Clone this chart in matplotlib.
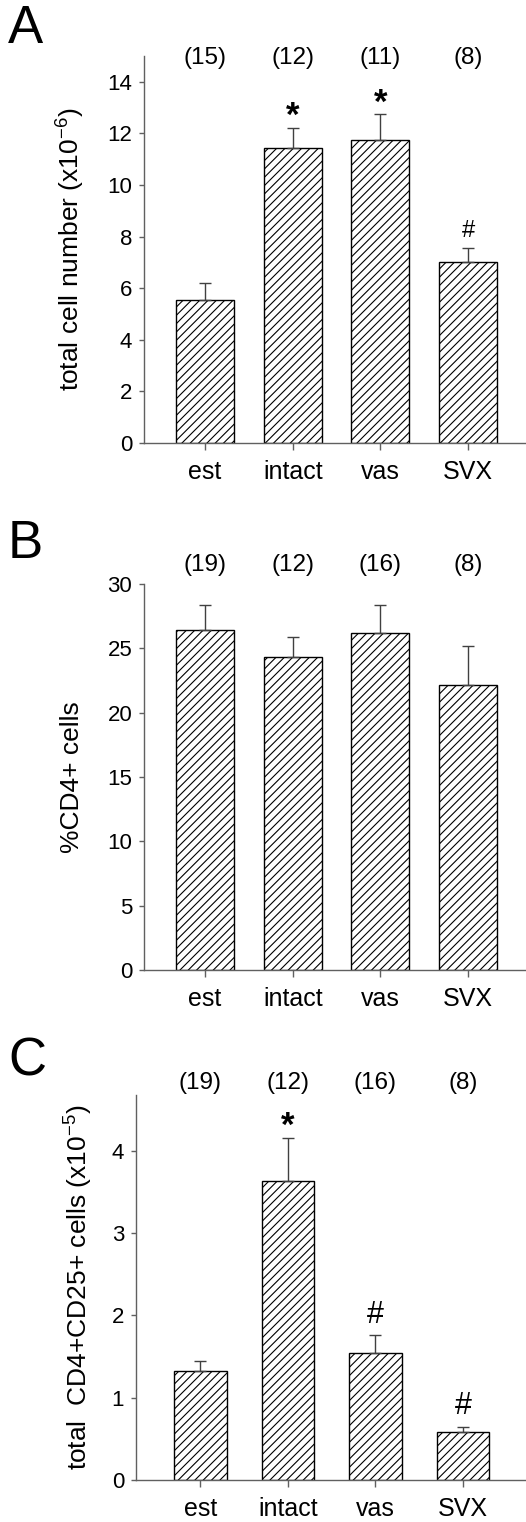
import matplotlib
matplotlib.use("Agg")
import matplotlib.pyplot as plt
import numpy as np

plt.rcParams['font.family'] = ['Liberation Sans', 'DejaVu Sans']
plt.rcParams['mathtext.default'] = 'regular'
plt.rcParams['hatch.linewidth'] = 0.8

groups = ["est", "intact", "vas", "SVX"]

# Panel A: total cell number (x10^-6)
a_mean = [5.54, 11.42, 11.73, 7.00]
a_err = [0.65, 0.80, 1.01, 0.56]
a_n = ["(15)", "(12)", "(11)", "(8)"]
a_sig = ["", "*", "*", "#"]

# Panel B: %CD4+ cells
b_mean = [26.4, 24.3, 26.2, 22.17]
b_err = [1.96, 1.55, 2.16, 3.03]
b_n = ["(19)", "(12)", "(16)", "(8)"]
b_sig = ["", "", "", ""]

# Panel C: total CD4+CD25+ cells (x10^-5)
c_mean = [1.33, 3.64, 1.54, 0.58]
c_err = [0.12, 0.52, 0.22, 0.07]
c_n = ["(19)", "(12)", "(16)", "(8)"]
c_sig = ["", "*", "#", "#"]

W, H = 526, 1522
fig = plt.figure(figsize=(W / 100, H / 100), dpi=100)

spine_col = '#606060'
err_col = '#404040'


def make_panel(left, top, bottom, right, xlim, ylim, yticks, width,
               means, errs, ns, sigs, n_y, ylabel, label_x, letter, letter_y,
               sig_sizes):
    ax = fig.add_axes([left / W, (H - bottom) / H, (right - left) / W, (bottom - top) / H])
    x = np.arange(len(groups))
    ax.bar(x, means, width=width, color='white', edgecolor='black',
           linewidth=1.0, hatch='////', zorder=2)
    ax.errorbar(x, means, yerr=[np.zeros(len(errs)), errs], fmt='none',
                ecolor=err_col, elinewidth=1.0, capsize=4, capthick=1.0, zorder=3)
    ax.set_xlim(*xlim)
    ax.set_ylim(*ylim)
    ax.set_yticks(yticks)
    ax.set_xticks(x)
    ax.set_xticklabels(groups, fontsize=18)
    ax.tick_params(axis='y', labelsize=16, direction='out', length=3.5,
                   width=1.0, color=spine_col, pad=5)
    ax.tick_params(axis='x', direction='out', length=5, width=1.0,
                   color=spine_col, pad=7)
    for s in ['top', 'right']:
        ax.spines[s].set_visible(False)
    for s in ['left', 'bottom']:
        ax.spines[s].set_color(spine_col)
        ax.spines[s].set_linewidth(1.0)
    for i, t in enumerate(ns):
        ax.text(i, n_y, t, ha='center', va='center', fontsize=17.5, clip_on=False)
    for i, s in enumerate(sigs):
        if s:
            if s == '*':
                ax.annotate(s, xy=(i, means[i] + errs[i]), xytext=(0, -4),
                            textcoords='offset points', ha='center', va='bottom',
                            fontsize=sig_sizes[0], fontweight='bold')
            else:
                ax.annotate(s, xy=(i, means[i] + errs[i]), xytext=(0, 4),
                            textcoords='offset points', ha='center', va='bottom',
                            fontsize=sig_sizes[1])
    fig.text(label_x / W, 1 - ((top + bottom) / 2) / H, ylabel, rotation=90,
             ha='center', va='center', fontsize=19)
    fig.text(8 / W, 1 - letter_y / H, letter, ha='left', va='center', fontsize=38)
    return ax


make_panel(144, 56, 443, 526, (-0.696, 3.66), (0, 15), np.arange(0, 15, 2), 0.66,
           a_mean, a_err, a_n, a_sig, 14.92,
           'total cell number (x10$^{-6}$)', 71, 'A', 29, (25, 17))

make_panel(144, 584, 970, 526, (-0.696, 3.66), (0, 30), np.arange(0, 31, 5), 0.66,
           b_mean, b_err, b_n, b_sig, 31.47,
           '%CD4+ cells', 72, 'B', 544, (25, 17))

make_panel(136, 1095, 1480, 526, (-0.737, 3.72), (0, 4.68), np.arange(0, 5, 1), 0.605,
           c_mean, c_err, c_n, c_sig, 4.83,
           'total  CD4+CD25+ cells (x10$^{-5}$)', 79, 'C', 1061, (25, 22))

fig.savefig('out.png', dpi=100)
